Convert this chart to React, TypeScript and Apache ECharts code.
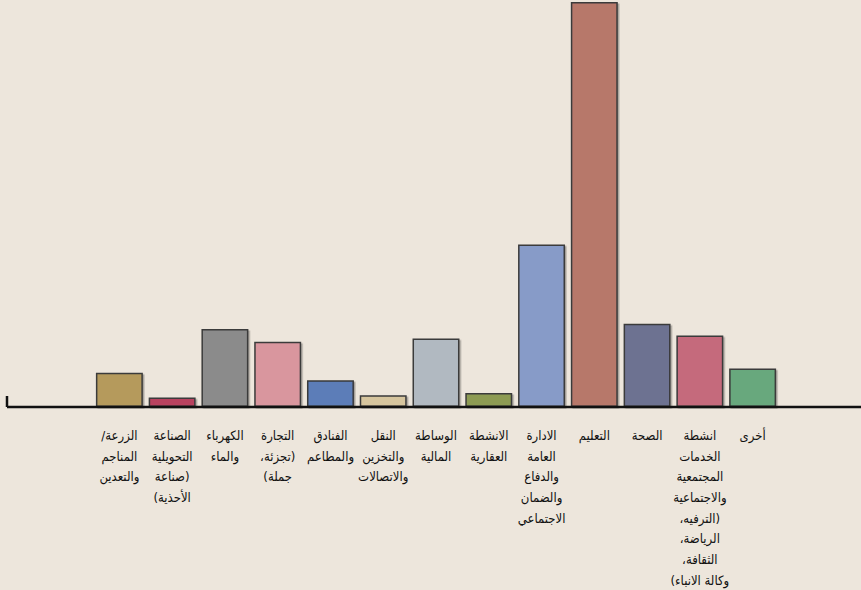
import React, { useEffect, useRef } from "react";
import * as echarts from "echarts";

// Label lines are written so that the renderer's right-to-left layout puts the
// punctuation where the reference shows it.
const categories: string[] = [
  "/الزرعة\nالمناجم\nوالتعدين",
  "الصناعة\nالتحويلية\nصناعة)\n(الأحذية",
  "الكهرباء\nوالماء",
  "التجارة\n،تجزئة)\n(جملة",
  "الفنادق\nوالمطاعم",
  "النقل\nوالتخزين\nوالاتصالات",
  "الوساطة\nالمالية",
  "الانشطة\nالعقارية",
  "الادارة\nالعامة\nوالدفاع\nوالضمان\nالاجتماعي",
  "التعليم",
  "الصحة",
  "انشطة\nالخدمات\nالمجتمعية\nوالاجتماعية\n،الترفيه)\n،الرياضة\n،الثقافة\n(وكالة الانباء",
  "أخرى",
];

const values: number[] = [3.2, 0.9, 7.3, 6.1, 2.5, 1.1, 6.4, 1.3, 15.2, 37.9, 7.8, 6.7, 3.6];

const barColors: string[] = [
  "#b59a5c",
  "#b8435e",
  "#8b8b8b",
  "#d9969e",
  "#5b7db8",
  "#d6c59e",
  "#b1b9c1",
  "#8d9b52",
  "#879bc8",
  "#b7786b",
  "#6d7291",
  "#c56a7b",
  "#68a87d",
];

export default function App() {
  const ref = useRef<HTMLDivElement>(null);
  useEffect(() => {
    document.body.style.margin = "0";
    if (!ref.current) return;
    const chart = echarts.init(ref.current, null, { renderer: "svg" });
    chart.setOption({
      animation: false,
      backgroundColor: "#ede6dc",
      grid: { left: 93, right: 82, top: 2, bottom: 183, outerBoundsMode: "none", containLabel: false },
      xAxis: {
        type: "category",
        data: categories,
        axisLine: { show: false },
        axisTick: { show: false },
        axisLabel: {
          interval: 0,
          margin: 18,
          verticalAlign: "top",
          lineHeight: 20.7,
          fontSize: 13,
          fontFamily: "DejaVu Sans Condensed",
          color: "#111",
          align: "center",
        },
      },
      yAxis: {
        type: "value",
        min: 0,
        max: 37.9,
        show: false,
        splitLine: { show: false },
      },
      graphic: [
        {
          type: "line",
          shape: { x1: 7, y1: 407, x2: 861, y2: 407 },
          style: { stroke: "#111", lineWidth: 2.5 },
          z: 10,
        },
        {
          type: "line",
          shape: { x1: 7, y1: 396, x2: 7, y2: 407 },
          style: { stroke: "#111", lineWidth: 2.5 },
          z: 10,
        },
      ],
      series: [
        {
          type: "bar",
          barCategoryGap: "11%",
          data: values.map((v, i) => ({
            value: v,
            itemStyle: { color: barColors[i] },
          })),
          itemStyle: {
            borderColor: "#3a3a3a",
            borderWidth: 1.5,
            shadowColor: "rgba(0,0,0,0.3)",
            shadowOffsetX: 1.5,
            shadowOffsetY: 1.5,
            shadowBlur: 1,
          },
        },
      ],
    });
    return () => chart.dispose();
  }, []);
  return <div ref={ref} style={{ width: 861, height: 590 }} />;
}
